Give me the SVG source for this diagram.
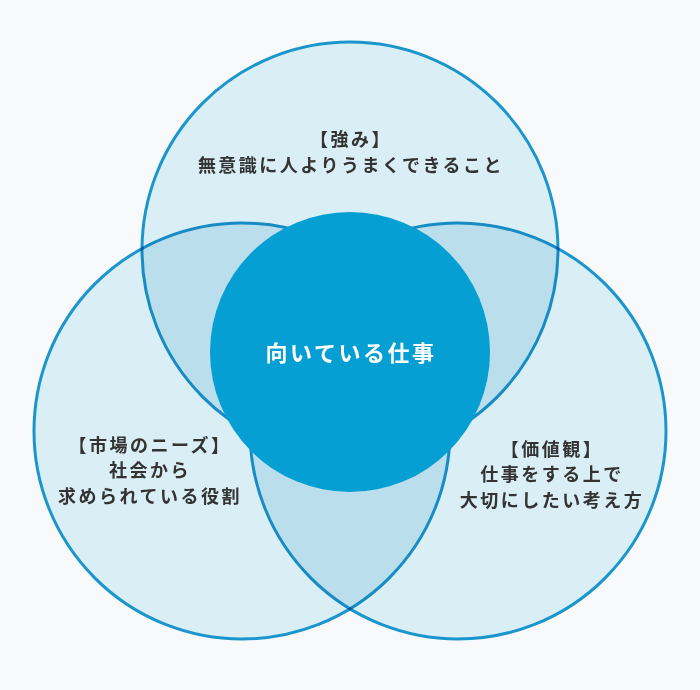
<svg xmlns="http://www.w3.org/2000/svg" width="700" height="690" viewBox="0 0 700 690">
  <style>
    .set { fill: #daeef5; stroke: #1a96cc; stroke-width: 3; mix-blend-mode: multiply; }
    .lbl { font-family: "Noto Sans CJK JP", "Noto Sans", sans-serif; font-weight: 700; font-size: 18px; letter-spacing: 2.5px; fill: #333333; text-anchor: middle; }
    .core { font-family: "Noto Sans CJK JP", "Noto Sans", sans-serif; font-weight: 700; font-size: 22px; letter-spacing: 2.5px; fill: #ffffff; text-anchor: middle; }
  </style>
  <rect x="0" y="0" width="700" height="690" fill="#f8f9fa"/>
  <g id="venn" style="isolation:isolate">
    <g id="strength">
      <circle class="set" cx="350" cy="250" r="208"/>
    </g>
    <g id="market">
      <circle class="set" cx="242" cy="431" r="208"/>
    </g>
    <g id="values">
      <circle class="set" cx="458" cy="431" r="208"/>
    </g>
  </g>
  <g id="core">
    <circle cx="350" cy="352" r="140" fill="#069fd3"/>
    <text class="core" x="351" y="361">向いている仕事</text>
  </g>
  <g id="labels">
    <text class="lbl" x="351" y="146">【強み】</text>
    <text class="lbl" x="351" y="172">無意識に人よりうまくできること</text>
    <text class="lbl" x="150" y="452">【市場のニーズ】</text>
    <text class="lbl" x="150" y="477">社会から</text>
    <text class="lbl" x="150" y="503">求められている役割</text>
    <text class="lbl" x="552" y="456">【価値観】</text>
    <text class="lbl" x="552" y="481">仕事をする上で</text>
    <text class="lbl" x="552" y="507">大切にしたい考え方</text>
  </g>
  <g id="connectors"/>
</svg>
